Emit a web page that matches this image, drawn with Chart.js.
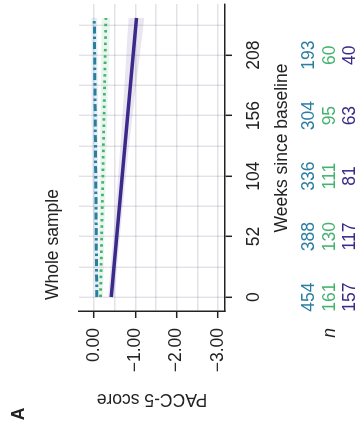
<!DOCTYPE html>
<html>
<head>
<meta charset="utf-8">
<script src="https://cdn.jsdelivr.net/npm/chart.js@4/dist/chart.umd.min.js"></script>
<style>
  html, body { margin: 0; padding: 0; background: #fff; }
  body { width: 364px; height: 433px; overflow: hidden; position: relative; }
  /* figure is drawn upright, then turned a quarter turn like the reference */
  #wrap {
    position: absolute; left: 0; top: 0;
    width: 433px; height: 364px;
    transform-origin: 0 0;
    transform: translateY(433px) rotate(-90deg);
  }
</style>
</head>
<body>
<div id="wrap"><canvas id="chart" width="433" height="364"></canvas></div>
<script>
// --- Data ---
const lineWeeks = [0, 240];
const bandWeeks = [0, 120, 240];

const tealScore = [-0.07, -0.01];
const tealUpper = [-0.03, 0.05, 0.06];
const tealLower = [-0.11, -0.10, -0.08];

const greenScore = [-0.16, -0.29];
const greenUpper = [-0.10, -0.15, -0.19];
const greenLower = [-0.22, -0.30, -0.39];

const purpleScore = [-0.42, -1.03];
const purpleUpper = [-0.35, -0.62, -0.84];
const purpleLower = [-0.49, -0.82, -1.22];

// n at risk table
const nWeeks = [0, 52, 104, 156, 208];
const nTeal = [454, 388, 336, 304, 193];
const nGreen = [161, 130, 111, 95, 60];
const nPurple = [157, 117, 81, 63, 40];

// ticks
const xTicks = [0, 26, 52, 78, 104, 130, 156, 182, 208, 234];
const xLabelled = [0, 52, 104, 156, 208];
const yTicks = [0, -0.5, -1, -1.5, -2, -2.5, -3];
const yLabelled = [0, -1, -2, -3];

const TEAL = '#2b7ea1';
const GREEN = '#45b36f';
const PURPLE = '#3b2a8a';
const INK = '#222';
const FONT = '"Liberation Sans", Arial, Helvetica, sans-serif';

// --- Helpers ---
function pts(xs, ys) {
  return xs.map((x, i) => ({ x: x, y: ys[i] }));
}

function fmtScore(v) {
  if (v === 0) return '0.00';
  return (v < 0 ? '\u2212' : '') + Math.abs(v).toFixed(2);
}

function band(upper, lower, fillColor) {
  return [
    { data: pts(bandWeeks, upper), borderWidth: 0, pointRadius: 0, fill: '+1', backgroundColor: fillColor, tension: 0.4 },
    { data: pts(bandWeeks, lower), borderWidth: 0, pointRadius: 0, fill: false, tension: 0.4 }
  ];
}

// --- Extra text: panel letter, title, axis titles, n table ---
const annotations = {
  id: 'annotations',
  afterDraw(chart) {
    const ctx = chart.ctx;
    const x = chart.scales.x;
    ctx.save();
    ctx.fillStyle = INK;

    ctx.font = 'bold 17.5px ' + FONT;
    ctx.textAlign = 'center';
    ctx.textBaseline = 'middle';
    ctx.fillText('A', 19, 19);

    ctx.font = '17.5px ' + FONT;
    ctx.textAlign = 'left';
    ctx.textBaseline = 'alphabetic';
    ctx.fillText('Whole sample', 133, 58);

    ctx.textAlign = 'center';
    ctx.fillText('Weeks since baseline', 285, 287);

    ctx.save();
    ctx.translate(34, 152);
    ctx.rotate(-Math.PI / 2);
    ctx.textBaseline = 'middle';
    ctx.fillText('PACC-5 score', 0, 0);
    ctx.restore();

    const rows = [[nTeal, TEAL, 314], [nGreen, GREEN, 335], [nPurple, PURPLE, 355]];
    rows.forEach(([vals, color, y]) => {
      ctx.fillStyle = color;
      vals.forEach((v, i) => ctx.fillText(String(v), x.getPixelForValue(nWeeks[i]), y));
    });

    ctx.fillStyle = INK;
    ctx.font = 'italic 17.5px ' + FONT;
    ctx.fillText('n', 100, 335);
    ctx.restore();
  }
};

// --- Chart ---
new Chart(document.getElementById('chart'), {
  type: 'line',
  data: {
    datasets: [
      ...band(purpleUpper, purpleLower, 'rgba(70, 50, 150, 0.12)'),
      ...band(greenUpper, greenLower, 'rgba(70, 185, 120, 0.12)'),
      ...band(tealUpper, tealLower, 'rgba(45, 130, 170, 0.12)'),
      {
        data: pts(lineWeeks, purpleScore),
        borderColor: PURPLE,
        borderWidth: 3.4,
        pointRadius: 0,
        fill: false,
      },
      {
        data: pts(lineWeeks, greenScore),
        borderColor: GREEN,
        borderWidth: 2.8,
        borderDash: [2.5, 3.8],
        pointRadius: 0,
        fill: false,
      },
      {
        data: pts(lineWeeks, tealScore),
        borderColor: TEAL,
        borderWidth: 3,
        borderDash: [7, 3, 2.5, 3],
        pointRadius: 0,
        fill: false,
      },
    ]
  },
  options: {
    responsive: false,
    animation: false,
    layout: { padding: { left: 0, top: 79, right: 4, bottom: 0 } },
    plugins: {
      legend: { display: false },
      tooltip: { enabled: false },
    },
    scales: {
      x: {
        type: 'linear',
        min: -12,
        max: 252,
        afterBuildTicks: s => { s.ticks = xTicks.map(v => ({ value: v })); },
        afterFit: s => { s.height = 139; },
        grid: {
          color: 'rgba(20, 20, 60, 0.12)',
          lineWidth: 1.4,
          tickLength: 7,
          tickColor: c => xLabelled.includes(c.tick.value) ? INK : 'rgba(0,0,0,0)',
          tickWidth: 1.5,
        },
        border: { color: INK, width: 1.5 },
        ticks: {
          autoSkip: false,
          maxRotation: 0,
          padding: 12,
          color: INK,
          font: { size: 17.5, family: FONT },
          callback: v => xLabelled.includes(v) ? String(v) : '',
        },
      },
      y: {
        type: 'linear',
        min: -3.17,
        max: 0.36,
        afterBuildTicks: s => { s.ticks = yTicks.map(v => ({ value: v })); },
        afterFit: s => { s.width = 122; },
        grid: {
          color: 'rgba(20, 20, 60, 0.12)',
          lineWidth: 1.4,
          tickLength: 7,
          tickColor: c => yLabelled.includes(c.tick.value) ? INK : 'rgba(0,0,0,0)',
          tickWidth: 1.5,
        },
        border: { color: INK, width: 1.5 },
        ticks: {
          autoSkip: false,
          padding: 10,
          color: INK,
          font: { size: 17.5, family: FONT },
          callback: v => yLabelled.includes(v) ? fmtScore(v) : '',
        },
      },
    },
  },
  plugins: [annotations],
});
</script>
</body>
</html>
